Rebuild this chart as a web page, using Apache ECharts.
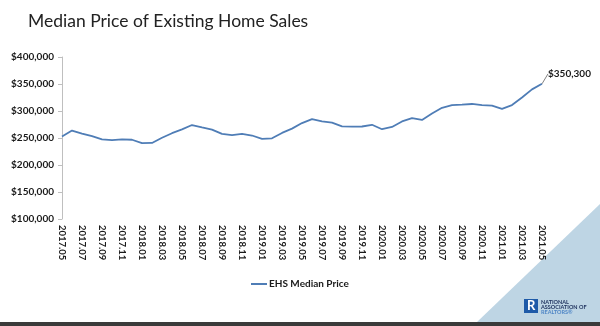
<!DOCTYPE html>
<html><head><meta charset="utf-8">
<script src="https://cdn.jsdelivr.net/npm/echarts@6/dist/echarts.min.js"></script>
<style>html,body{margin:0;padding:0;background:#fff}#c{width:600px;height:326px}</style>
</head><body><div id="c"></div>
<script>
const categories = ['2017.05','2017.06','2017.07','2017.08','2017.09','2017.10','2017.11','2017.12',
'2018.01','2018.02','2018.03','2018.04','2018.05','2018.06','2018.07','2018.08','2018.09','2018.10','2018.11','2018.12',
'2019.01','2019.02','2019.03','2019.04','2019.05','2019.06','2019.07','2019.08','2019.09','2019.10','2019.11','2019.12',
'2020.01','2020.02','2020.03','2020.04','2020.05','2020.06','2020.07','2020.08','2020.09','2020.10','2020.11','2020.12',
'2021.01','2021.02','2021.03','2021.04','2021.05'];
const medianPrice = [252800,263800,258300,253500,247500,246000,247500,246800,
240500,240800,250400,258900,266000,274000,269600,265500,257500,255400,257700,254600,
248500,249400,259400,267300,277700,285000,280800,278500,271500,270900,271300,274500,
266300,270400,280700,286800,283500,295300,306000,310700,311800,313000,310800,309800,
303900,311000,325000,340000,350300];
const yTicks = {min:100000, max:400000, interval:50000};
const seriesName = 'EHS Median Price';
const endLabel = '$350,300';
const FONT = 'Lato';
const chart = echarts.init(document.getElementById('c'), null, {renderer:'canvas'});
const last = medianPrice.length - 1;
chart.setOption({
  animation:false,
  textStyle:{fontFamily:FONT},
  title:{text:'Median Price of Existing Home Sales', left:23, top:7,
    textStyle:{fontFamily:FONT, fontSize:17.5, fontWeight:'normal', color:'#222'}},
  grid:{left:62, right:58, top:57, bottom:107},
  legend:{data:[seriesName], left:246, top:274, icon:'rect', itemWidth:16, itemHeight:2, itemGap:4,
    textStyle:{fontFamily:FONT, fontSize:10, fontWeight:'bold', color:'#1a1a1a', padding:[0,0,0,-3]}},
  xAxis:{type:'category', data:categories, boundaryGap:false,
    axisLine:{show:false}, axisTick:{show:false},
    axisLabel:{interval:1, rotate:-90, margin:6, fontFamily:FONT, fontSize:9.5, fontWeight:'bold', color:'#1a1a1a'}},
  yAxis:{type:'value', min:yTicks.min, max:yTicks.max, interval:yTicks.interval,
    splitLine:{show:false},
    axisLine:{show:true, lineStyle:{color:'#bfbfbf'}},
    axisTick:{show:true, length:4, lineStyle:{color:'#bfbfbf'}},
    axisLabel:{margin:8, fontFamily:FONT, fontSize:10, fontWeight:'bold', color:'#1a1a1a',
      formatter:v => '$' + v.toLocaleString('en-US')}},
  series:[{name:seriesName, type:'line', data:medianPrice.map((v,i)=> i===last ? {value:v,
      label:{show:true, position:'right', distance:2, formatter:endLabel, fontFamily:FONT, fontSize:10, fontWeight:'bold', color:'#1a1a1a'},
      labelLine:{show:true, lineStyle:{color:'#808080', width:1}}} : v),
    symbol:'circle', symbolSize:0.01, showSymbol:true, lineStyle:{color:'#4f7db6', width:1.8}, itemStyle:{color:'#4f7db6'},
    labelLayout: p => p.dataIndex===last ? {dx:4, dy:-10} : {}
  }],
  graphic:[
    {type:'polygon', silent:true, z:-10, shape:{points:[[600,204],[600,322],[477,322]]}, style:{fill:'#bed5e4'}},
    {type:'rect', silent:true, shape:{x:0,y:322,width:600,height:4}, style:{fill:'#3a3a3a'}},
    {type:'rect', silent:true, shape:{x:524,y:299,width:14,height:14}, style:{fill:'#1e5aa8'}},
    {type:'text', silent:true, left:527, top:299, style:{text:'R', fill:'#fff', font:'bold 13px Lato'}},
    {type:'text', silent:true, left:541, top:299, style:{text:'NATIONAL\nASSOCIATION OF', fill:'#1c2f5c', font:'bold 5.5px Lato', lineHeight:5.5}},
    {type:'text', silent:true, left:541, top:309.5, style:{text:'REALTORS®', fill:'#4f86c6', font:'bold 5.5px Lato'}}
  ]
});
</script></body></html>
